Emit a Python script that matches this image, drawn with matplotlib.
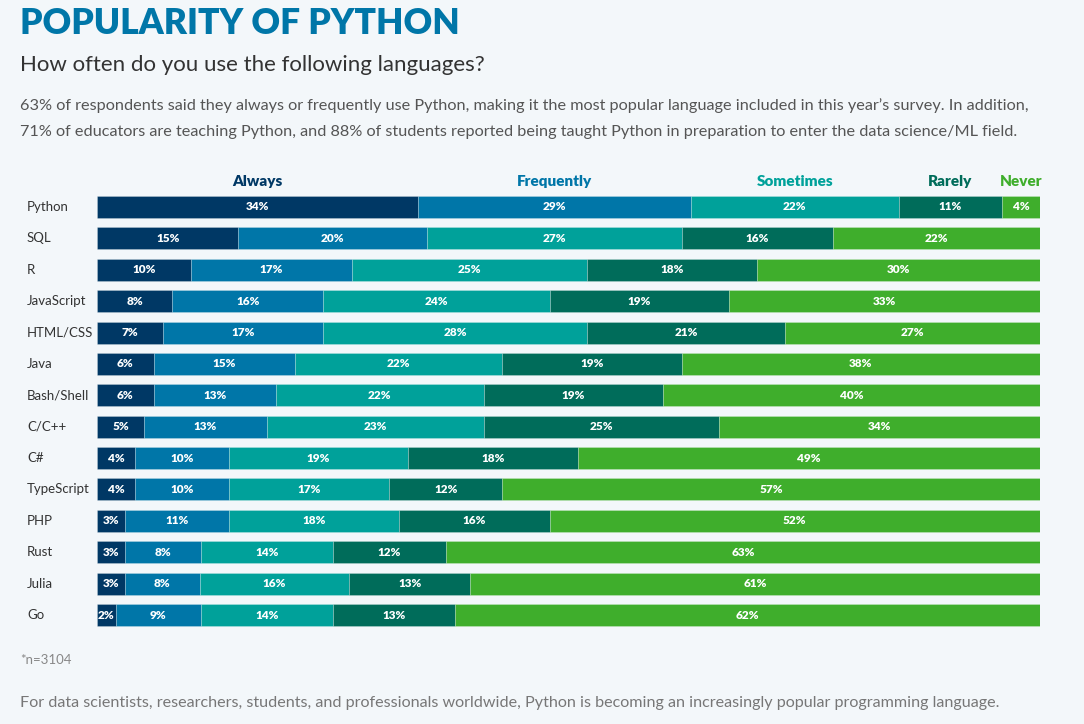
import matplotlib
matplotlib.use("Agg")
import matplotlib.pyplot as plt
import numpy as np

languages = ["Python", "SQL", "R", "JavaScript", "HTML/CSS", "Java", "Bash/Shell",
             "C/C++", "C#", "TypeScript", "PHP", "Rust", "Julia", "Go"]
categories = ["Always", "Frequently", "Sometimes", "Rarely", "Never"]
always     = [34, 15, 10, 8, 7, 6, 6, 5, 4, 4, 3, 3, 3, 2]
frequently = [29, 20, 17, 16, 17, 15, 13, 13, 10, 10, 11, 8, 8, 9]
sometimes  = [22, 27, 25, 24, 28, 22, 22, 23, 19, 17, 18, 14, 16, 14]
rarely     = [11, 16, 18, 19, 21, 19, 19, 25, 18, 12, 16, 12, 13, 13]
never      = [4, 22, 30, 33, 27, 38, 40, 34, 49, 57, 52, 63, 61, 62]
colors = ["#003865", "#0076a8", "#00a19a", "#006c5a", "#3fae2c"]

series = [always, frequently, sometimes, rarely, never]
BG = "#f3f7fa"
W, H = 1084, 724
plt.rcParams["font.family"] = ["Lato", "DejaVu Sans"]

fig = plt.figure(figsize=(W / 100, H / 100), dpi=100, facecolor=BG)

# axes in pixel coords
left, right = 97, 1040
row = 31.4
top = 207 - row / 2
bottom = 615 + row / 2
ax = fig.add_axes([left / W, 1 - bottom / H, (right - left) / W, (bottom - top) / H])
ax.set_facecolor(BG)

data = np.array(series, dtype=float)
totals = data.sum(axis=0)
norm = data / totals * 100
y = np.arange(len(languages))
cum = np.zeros(len(languages))
for i, (vals, c) in enumerate(zip(norm, colors)):
    ax.barh(y, vals, left=cum, height=0.70, color=c, edgecolor=(1, 1, 1, 0.25), linewidth=0.6)
    for j, v in enumerate(vals):
        ax.text(cum[j] + v / 2, y[j], f"{series[i][j]}%", ha="center", va="center",
                color="white", fontsize=8.5, fontweight="heavy")
    # header above Python bar
    ax.text(cum[0] + vals[0] / 2, -0.82, categories[i], ha="center", va="center",
            color=c, fontsize=11, fontweight="heavy")
    cum += vals

ax.set_xlim(0, 100)
ax.set_ylim(len(languages) - 0.5, -0.5)
ax.axis("off")

for j, lang in enumerate(languages):
    ax.text(-70 / (right - left) * 100, y[j], lang, ha="left", va="center",
            color="#333333", fontsize=9.5)

fig.text(20 / W, 1 - 23 / H, "POPULARITY OF PYTHON", ha="left", va="center",
         color="#0076a8", fontsize=25.5, fontweight="heavy")
fig.text(20 / W, 1 - 65 / H, "How often do you use the following languages?", ha="left",
         va="center", color="#333333", fontsize=16)
fig.text(20 / W, 1 - 106 / H,
         "63% of respondents said they always or frequently use Python, making it the most popular language included in this year\u2019s survey. In addition,",
         ha="left", va="center", color="#555555", fontsize=11.7)
fig.text(20 / W, 1 - 132 / H,
         "71% of educators are teaching Python, and 88% of students reported being taught Python in preparation to enter the data science/ML field.",
         ha="left", va="center", color="#555555", fontsize=11.7)
fig.text(20 / W, 1 - 660 / H, "*n=3104", ha="left", va="center", color="#888888", fontsize=9.5)
fig.text(20 / W, 1 - 703 / H,
         "For data scientists, researchers, students, and professionals worldwide, Python is becoming an increasingly popular programming language.",
         ha="left", va="center", color="#777777", fontsize=11.6)

fig.savefig("out.png", dpi=100, facecolor=BG)
